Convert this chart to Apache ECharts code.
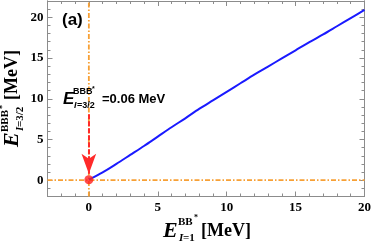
<!DOCTYPE html>
<html>
<head>
<meta charset="utf-8">
<script src="https://cdn.jsdelivr.net/npm/echarts@6/dist/echarts.min.js"></script>
<style>
html,body{margin:0;padding:0;background:#fff;}
#chart{width:374px;height:244px;}
</style>
</head>
<body>
<div id="chart"></div>
<script>
// ---- data ----
var energyI1 = [0, 1, 2, 3, 4, 5, 6, 7, 8, 9, 10, 11, 12, 13, 14, 15, 16, 17, 18, 19, 20];
var energyI32 = [0.06, 0.95, 2.0, 3.1, 4.2, 5.35, 6.5, 7.6, 8.75, 9.8, 10.85, 11.9, 12.95, 13.95, 14.95, 15.95, 16.95, 17.9, 18.9, 19.9, 20.9];
var boundPoint = [0, 0.06];
var arrowFrom = [0, 8.1];
var arrowTo = [0, 0.8];
var xMajorTicks = [0, 5, 10, 15, 20];
var yMajorTicks = [0, 5, 10, 15, 20];
var xMinorTicks = [-3, -2, -1, 0, 1, 2, 3, 4, 5, 6, 7, 8, 9, 10, 11, 12, 13, 14, 15, 16, 17, 18, 19, 20];
var yMinorTicks = [-2, -1, 0, 1, 2, 3, 4, 5, 6, 7, 8, 9, 10, 11, 12, 13, 14, 15, 16, 17, 18, 19, 20, 21, 22];
var xRange = [-3, 20];
var yRange = [-2, 22];

var chart = echarts.init(document.getElementById('chart'), null, {renderer: 'canvas'});
var frameColor = '#8c8c8c';
var orange = '#f7a035';
var serif = 'Liberation Serif';
var sans = 'Liberation Sans';

function mkX(pos, major, labels) {
  return {
    type: 'value', min: xRange[0], max: xRange[1], position: pos,
    axisLine: {show: true, onZero: false, lineStyle: {color: frameColor, width: 1}},
    axisTick: {show: true, inside: true, length: major ? 5 : 3, customValues: major ? xMajorTicks : xMinorTicks, lineStyle: {color: frameColor}},
    axisLabel: labels ? {show: true, customValues: xMajorTicks, margin: 5, color: '#000', fontFamily: serif, fontWeight: 'bold', fontSize: 13} : {show: false},
    splitLine: {show: false}
  };
}
function mkY(pos, major, labels) {
  return {
    type: 'value', min: yRange[0], max: yRange[1], position: pos,
    axisLine: {show: true, onZero: false, lineStyle: {color: frameColor, width: 1}},
    axisTick: {show: true, inside: true, length: major ? 5 : 3, customValues: major ? yMajorTicks : yMinorTicks, lineStyle: {color: frameColor}},
    axisLabel: labels ? {show: true, customValues: yMajorTicks, margin: 4, color: '#000', fontFamily: serif, fontWeight: 'bold', fontSize: 13} : {show: false},
    splitLine: {show: false}
  };
}

var curve = energyI1.map(function (x, i) { return [x, energyI32[i]]; });

function txt(x, y, s, font, extra) {
  var st = {text: s, font: font, fill: '#000', textAlign: 'left', textVerticalAlign: 'middle'};
  if (extra) for (var k in extra) st[k] = extra[k];
  return {type: 'text', x: x, y: y, style: st, z: 100};
}

var option = {
  animation: false,
  grid: {left: 47.5, right: 8, top: 1, bottom: 47.5, containLabel: false},
  xAxis: [mkX('bottom', true, true), mkX('bottom', false, false), mkX('top', true, false), mkX('top', false, false)],
  yAxis: [mkY('left', true, true), mkY('left', false, false), mkY('right', true, false), mkY('right', false, false)],
  series: [
    {type: 'line', data: [[xRange[0], 0], [xRange[1], 0]], symbol: 'none', z: 2,
     lineStyle: {color: orange, width: 1.8, type: [5, 2, 1.5, 2]}},
    {type: 'line', data: [[0, yRange[0]], [0, yRange[1]]], symbol: 'none', z: 2,
     lineStyle: {color: orange, width: 1.8, type: [5, 2, 1.5, 2]}},
    {type: 'line', data: curve, symbol: 'none', smooth: 0.3, z: 3,
     lineStyle: {color: '#1a1aff', width: 2}},
    {type: 'line', data: [arrowFrom, arrowTo], symbol: 'none', z: 4,
     lineStyle: {color: 'transparent', width: 0},
     markLine: {silent: true, symbol: ['none', 'arrow'], symbolSize: [11, 20],
       label: {show: false},
       lineStyle: {color: '#ff2a2a', width: 2, type: [5, 2]},
       data: [[{coord: arrowFrom}, {coord: arrowTo}]]}},
    {type: 'scatter', data: [boundPoint], symbol: 'circle', symbolSize: 9, z: 5,
     itemStyle: {color: '#ff1f1f'}}
  ],
  graphic: [
    txt(62, 20, '(a)', 'bold 17px ' + sans),
    // annotation
    txt(63, 99, 'E', 'italic bold 17px ' + sans),
    txt(73, 92, 'BBB', 'bold 9px ' + sans),
    txt(92, 89, '*', 'bold 7px ' + sans),
    txt(74, 106, 'I', 'italic bold 9px ' + sans),
    txt(77, 106, '=3/2', 'bold 9px ' + sans),
    txt(102, 99, '=0.06 MeV', 'bold 13px ' + sans),
    // x axis title
    txt(163, 231, 'E', 'italic bold 22px ' + serif),
    txt(178, 222, 'BB', 'bold 11px ' + serif),
    txt(194, 218, '*', 'bold 8px ' + serif),
    txt(179, 238, 'I', 'italic bold 11px ' + serif),
    txt(183, 238, '=1', 'bold 11px ' + serif),
    txt(201, 231, '[MeV]', 'bold 18px ' + serif),
    // y axis title (rotated)
    {type: 'group', x: 12, y: 147, rotation: Math.PI / 2, z: 100, children: [
      txt(0, 0, 'E', 'italic bold 22px ' + serif),
      txt(15, -7, 'BBB', 'bold 11px ' + serif),
      txt(38, -9, '*', 'bold 8px ' + serif),
      txt(16, 8, 'I', 'italic bold 11px ' + serif),
      txt(20, 8, '=3/2', 'bold 11px ' + serif),
      txt(47, 0, '[MeV]', 'bold 18px ' + serif)
    ]}
  ]
};
chart.setOption(option);
</script>
</body>
</html>
